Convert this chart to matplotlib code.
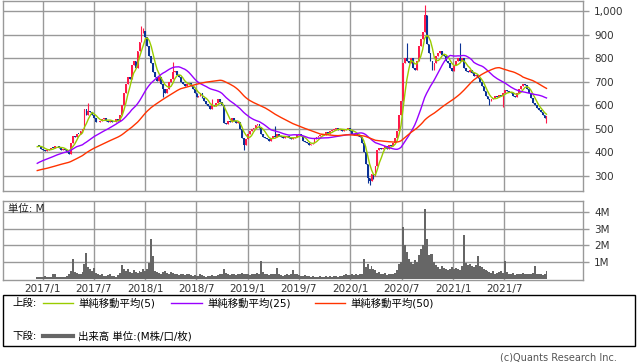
import numpy as np
import pandas as pd
import matplotlib
matplotlib.use("Agg")
import matplotlib.pyplot as plt
import matplotlib.dates as mdates
from matplotlib.patches import Rectangle
from matplotlib.lines import Line2D

plt.rcParams['font.family'] = ['DejaVu Sans', 'Noto Sans CJK JP']

# weekly closes before the window, only needed for the moving averages
pre_close = [310, 315, 320, 318, 312, 305, 300, 305, 310, 300, 295, 300, 305, 300, 295, 290,
             280, 270, 265, 260, 265, 270, 275, 270, 265,
             310, 315, 320, 325, 330, 330, 335, 340, 335, 340, 345, 340, 345, 350, 345, 340,
             335, 340, 345, 350, 415, 420, 425, 430]

close = [430, 425, 415, 408, 405, 410, 415, 420, 418, 425,
         428, 420, 412, 415, 410, 402, 395, 440, 470, 465,
         480, 478, 490, 500, 585, 560, 575, 570, 560, 545,
         530, 528, 535, 540, 545, 535, 530, 535, 530, 528,
         540, 535, 560, 600, 650, 690, 720, 710, 770, 790,
         760, 830, 870, 905, 915, 890, 850, 810, 780, 740,
         720, 705, 720, 690, 670, 650, 670, 700, 710, 740,
         745, 730, 720, 700, 690, 680, 690, 695, 680, 670,
         650, 635, 640, 650, 630, 620, 605, 595, 585, 600,
         595, 610, 625, 615, 600, 525, 520, 535, 530, 545,
         535, 525, 530, 500, 460, 430, 455, 480, 490, 500,
         505, 515, 520, 505, 480, 465, 460, 455, 450, 460,
         470, 465, 480, 470, 465, 460, 465, 470, 460, 455,
         460, 465, 475, 480, 470, 450, 445, 440, 430, 435,
         440, 455, 465, 470, 475, 480, 475, 485, 480, 490,
         495, 500, 505, 495, 500, 490, 495, 500, 505, 490,
         480, 475, 480, 470, 465, 440, 400, 350, 290, 280,
         310, 300, 340, 410, 420, 415, 420, 425, 415, 430,
         425, 440, 460, 490, 560, 620, 780, 800, 790, 780,
         800, 760, 750, 790, 850, 880, 910, 985, 860, 820,
         790, 750, 780, 810, 820, 830, 815, 810, 790, 780,
         760, 745, 770, 790, 800, 790, 800, 760, 745, 740,
         750, 735, 725, 730, 715, 700, 680, 660, 640, 625,
         620, 625, 630, 640, 635, 645, 640, 650, 665, 660,
         655, 650, 640, 635, 650, 670, 680, 690, 685, 670,
         650, 630, 610, 600, 590, 580, 570, 560, 545, 555]

# volume in millions
volume = [0.10, 0.08, 0.12, 0.10, 0.15, 0.09, 0.10, 0.12, 0.30, 0.25,
          0.12, 0.10, 0.08, 0.10, 0.12, 0.15, 0.25, 0.45, 1.15, 0.40,
          0.35, 0.30, 0.28, 0.40, 0.90, 1.54, 0.70, 0.55, 0.45, 0.63,
          0.35, 0.25, 0.20, 0.25, 0.18, 0.15, 0.20, 0.30, 0.18, 0.15,
          0.12, 0.20, 0.35, 0.80, 0.55, 0.45, 0.60, 0.40, 0.35, 0.50,
          0.40, 0.35, 0.45, 0.40, 0.55, 0.45, 0.60, 0.96, 2.37, 1.35,
          0.45, 0.40, 0.35, 0.30, 0.40, 0.45, 0.35, 0.30, 0.40, 0.35,
          0.30, 0.25, 0.20, 0.30, 0.25, 0.20, 0.25, 0.30, 0.20, 0.15,
          0.20, 0.15, 0.18, 0.25, 0.20, 0.15, 0.12, 0.15, 0.18, 0.20,
          0.15, 0.18, 0.20, 0.25, 0.30, 0.58, 0.35, 0.25, 0.20, 0.30,
          0.25, 0.20, 0.30, 0.25, 0.35, 0.30, 0.25, 0.30, 0.20, 0.25,
          0.30, 0.25, 0.35, 0.30, 1.06, 0.40, 0.30, 0.25, 0.20, 0.25,
          0.30, 0.25, 0.63, 0.25, 0.20, 0.15, 0.20, 0.25, 0.22, 0.30,
          0.52, 0.30, 0.25, 0.20, 0.18, 0.15, 0.20, 0.18, 0.15, 0.12,
          0.15, 0.12, 0.10, 0.12, 0.15, 0.12, 0.10, 0.15, 0.12, 0.13,
          0.12, 0.15, 0.13, 0.12, 0.14, 0.15, 0.20, 0.25, 0.22, 0.20,
          0.25, 0.22, 0.25, 0.20, 0.25, 0.30, 1.15, 0.70, 0.90, 0.60,
          0.75, 0.55, 0.50, 0.35, 0.40, 0.30, 0.25, 0.35, 0.20, 0.30,
          0.25, 0.30, 0.35, 0.50, 0.90, 1.00, 3.13, 2.00, 1.60, 1.20,
          1.00, 0.90, 1.10, 1.00, 1.40, 1.80, 2.00, 4.20, 2.40, 1.40,
          1.50, 1.45, 1.00, 0.80, 0.70, 0.60, 0.75, 0.65, 0.55, 0.50,
          0.60, 0.70, 0.55, 0.65, 0.60, 0.50, 0.75, 2.64, 0.95, 0.80,
          0.85, 0.75, 0.70, 0.80, 1.35, 0.75, 0.70, 0.60, 0.50, 0.45,
          0.40, 0.35, 0.45, 0.30, 0.35, 0.40, 0.45, 0.35, 1.06, 0.40,
          0.30, 0.25, 0.35, 0.20, 0.30, 0.25, 0.30, 0.35, 0.25, 0.30,
          0.25, 0.30, 0.35, 0.77, 0.30, 0.25, 0.30, 0.20, 0.25, 0.44]

# visible wicks (week index -> price)
wick_hi = {26: 610, 53: 935, 54: 930, 69: 785, 89: 625, 121: 513, 188: 865, 197: 1025, 215: 865}
wick_lo = {64: 636, 105: 411, 168: 270, 169: 263, 171: 285, 230: 602, 237: 592, 259: 525}

price_ticks = [300, 400, 500, 600, 700, 800, 900, 1000]
vol_ticks = [1, 2, 3, 4]
x_ticks = ['2017-01-01', '2017-07-01', '2018-01-01', '2018-07-01', '2019-01-01',
           '2019-07-01', '2020-01-01', '2020-07-01', '2021-01-01', '2021-07-01']
x_labels = ['2017/1', '2017/7', '2018/1', '2018/7', '2019/1', '2019/7',
            '2020/1', '2020/7', '2021/1', '2021/7']

weeks = pd.date_range('2016-12-12', periods=len(close), freq='W-MON')
allc = pd.Series(pre_close + close)
ma5 = allc.rolling(5).mean().values[len(pre_close):]
ma25 = allc.rolling(25).mean().values[len(pre_close):]
ma50 = allc.rolling(50).mean().values[len(pre_close):]

opens = [pre_close[-1]] + close[:-1]
highs = [max(o, c) for o, c in zip(opens, close)]
lows = [min(o, c) for o, c in zip(opens, close)]
for k, v in wick_hi.items():
    highs[k] = v
for k, v in wick_lo.items():
    lows[k] = v

RED = '#ff1a4a'
BLUE = '#0a3296'
GRID = '#999999'

W, H = 638, 362
fig = plt.figure(figsize=(W / 100, H / 100), dpi=100)
fx = lambda px: px / W
fy = lambda py: 1 - py / H

ax = fig.add_axes([fx(3), fy(190.5), fx(580), (190.5 - 0.7) / H])
axv = fig.add_axes([fx(3), fy(280), fx(580), (280 - 201) / H])

x = mdates.date2num(weeks)
cols = [RED if c >= o else BLUE for o, c in zip(opens, close)]
ax.vlines(x, lows, highs, colors=cols, linewidth=0.8, zorder=3)
bottoms = [min(o, c) for o, c in zip(opens, close)]
heights = [max(abs(c - o), 3) for o, c in zip(opens, close)]
ax.bar(x, heights, bottom=bottoms, width=6.5, color=cols, linewidth=0, zorder=3)

ax.plot(x, ma5, color='#99cc00', lw=1, zorder=4)
ax.plot(x, ma25, color='#9900ff', lw=1, zorder=4)
ax.plot(x, ma50, color='#ff3300', lw=1, zorder=4)

axv.bar(x, volume, width=7, color='#666666', linewidth=0, zorder=3)

xl = (mdates.datestr2num('2016-08-12'), mdates.datestr2num('2022-04-08'))
tick_x = [mdates.datestr2num(d) for d in x_ticks]
for a in (ax, axv):
    a.set_xlim(*xl)
    a.set_xticks(tick_x)
    a.grid(True, color=GRID, lw=1, zorder=0)
    for s in a.spines.values():
        s.set_color(GRID)
        s.set_linewidth(1)
    a.yaxis.tick_right()
    a.tick_params(axis='y', length=4, width=1, color=GRID, pad=4,
                  labelsize=7.5, labelcolor='#333333')
    a.tick_params(axis='x', length=0)

ax.set_ylim(238, 1044)
ax.set_yticks(price_ticks)
ax.set_yticklabels([f'{v:,}' for v in price_ticks])
ax.set_xticklabels([])

axv.set_ylim(-0.09, 4.68)
axv.set_yticks(vol_ticks)
axv.set_yticklabels([f'{v}M' for v in vol_ticks])
axv.set_xticklabels(x_labels)
axv.tick_params(axis='x', labelsize=7.5, labelcolor='#333333', pad=3)
axv.text(0.008, 0.96, '単位: M', transform=axv.transAxes, fontsize=7.5,
         va='top', ha='left', color='#222222')

# legend box
fig.patches.append(Rectangle((fx(3), fy(346)), fx(632), (346 - 295) / H,
                             transform=fig.transFigure, fill=False,
                             edgecolor='black', lw=1))
fs = 7.5
fig.text(fx(12), fy(303), '上段:', fontsize=fs, va='center')
fig.text(fx(12), fy(336), '下段:', fontsize=fs, va='center')
for x0, x1, c, lab in [(43, 73, '#99cc00', '単純移動平均(5)'),
                       (171, 202, '#9900ff', '単純移動平均(25)'),
                       (315, 345, '#ff3300', '単純移動平均(50)')]:
    fig.lines.append(Line2D([fx(x0), fx(x1)], [fy(303), fy(303)], color=c, lw=1,
                            transform=fig.transFigure))
    fig.text(fx(x1 + 5), fy(303), lab, fontsize=fs, va='center')
fig.lines.append(Line2D([fx(43), fx(73)], [fy(336), fy(336)], color='#666666', lw=3,
                        transform=fig.transFigure))
fig.text(fx(78), fy(336), '出来高 単位:(M株/口/枚)', fontsize=fs, va='center')

fig.text(fx(617), fy(357), '(c)Quants Research Inc.', fontsize=7, va='center',
         ha='right', color='#555555')

fig.savefig('out.png', dpi=100)
